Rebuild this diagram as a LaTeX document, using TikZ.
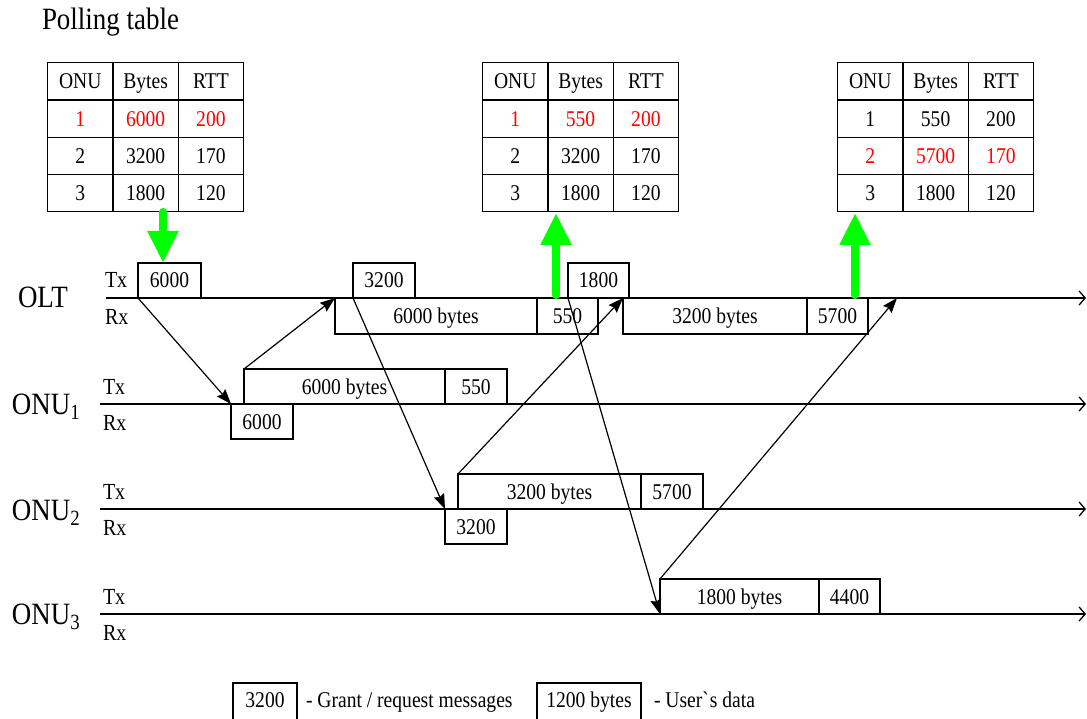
\documentclass[tikz,border=0pt]{standalone}
\usepackage{fontspec}
\setmainfont{Liberation Serif}[FakeStretch=0.87]
\usetikzlibrary{arrows.meta,matrix}
\definecolor{gArrowCol}{RGB}{0,255,0}
\definecolor{redTxt}{RGB}{255,0,0}
\begin{document}
\begin{tikzpicture}[x=1pt,y=-1pt,
  every node/.style={font=\fontsize{22.5}{26}\selectfont, inner sep=0pt, outer sep=0pt},
  bigtxt/.style={font=\fontsize{31}{34}\selectfont, anchor=base west},
  txrx/.style={font=\fontsize{23}{26}\selectfont, anchor=base west},
  box/.style={draw, line width=1.3pt, minimum height=35pt, text height=15pt, text depth=0pt, anchor=north west},
  legbox/.style={draw, line width=1.3pt, minimum height=40pt, text height=15pt, text depth=7pt, anchor=north west},
  ptable/.style={matrix of nodes, anchor=north west, inner sep=0pt, column sep=-1.3pt, row sep=-1.3pt,
    nodes={draw, line width=1.3pt, minimum width=65.3pt, minimum height=37.3pt, text height=15pt, text depth=0pt, anchor=center}},
  rd/.style={text=redTxt},
  tl/.style={line width=1.3pt, -{Straight Barb[length=6pt,width=14pt]}},
  conn/.style={line width=1.2pt, -{Stealth[length=15pt,width=11pt,inset=2pt]}},
  garrow/.style={draw=gArrowCol, line width=8pt, line cap=round, -{Triangle[length=32pt,width=29pt]}}
]
\useasboundingbox (0,0) rectangle (1087,719);

% title
\node[bigtxt] (poll) at (42,30) {Polling table};

% polling tables
\matrix[ptable] (t1) at (47,62) {
ONU & Bytes & RTT\\
|[rd]|1 & |[rd]|6000 & |[rd]|200\\
2 & 3200 & 170\\
3 & 1800 & 120\\
};
\matrix[ptable] (t2) at (482,62) {
ONU & Bytes & RTT\\
|[rd]|1 & |[rd]|550 & |[rd]|200\\
2 & 3200 & 170\\
3 & 1800 & 120\\
};
\matrix[ptable] (t3) at (837,62) {
ONU & Bytes & RTT\\
1 & 550 & 200\\
|[rd]|2 & |[rd]|5700 & |[rd]|170\\
3 & 1800 & 120\\
};

% station labels
\node[bigtxt] (lolt) at (18,308) {OLT};
\node[bigtxt] (lonu1) at (12,414) {ONU\textsubscript{1}};
\node[bigtxt] (lonu2) at (12,520) {ONU\textsubscript{2}};
\node[bigtxt] (lonu3) at (12,624) {ONU\textsubscript{3}};

\node[txrx] (tx0) at (105,288) {Tx};
\node[txrx] (rx0) at (105,324) {Rx};
\node[txrx] (tx1) at (103,394) {Tx};
\node[txrx] (rx1) at (103,430) {Rx};
\node[txrx] (tx2) at (103,499) {Tx};
\node[txrx] (rx2) at (103,535) {Rx};
\node[txrx] (tx3) at (103,604) {Tx};
\node[txrx] (rx3) at (103,640) {Rx};

% time lines
\coordinate (l0s) at (106,298); \coordinate (l0e) at (1086,298);
\coordinate (l1s) at (100,404); \coordinate (l1e) at (1086,404);
\coordinate (l2s) at (100,509); \coordinate (l2e) at (1086,509);
\coordinate (l3s) at (100,614); \coordinate (l3e) at (1086,614);
\draw[tl] (l0s) -- (l0e);
\draw[tl] (l1s) -- (l1e);
\draw[tl] (l2s) -- (l2e);
\draw[tl] (l3s) -- (l3e);

% OLT boxes
\node[box, minimum width=63pt] (o6000) at (138,263) {6000};
\node[box, minimum width=62pt] (o3200) at (353,263) {3200};
\node[box, minimum width=61pt] (o1800) at (568,263) {1800};
\node[box, minimum width=202pt, minimum height=36pt] (od1) at (335,298) {6000 bytes};
\node[box, minimum width=61pt, minimum height=36pt] (or1) at (537,298) {550};
\node[box, minimum width=184pt, minimum height=36pt] (od2) at (623,298) {3200 bytes};
\node[box, minimum width=61pt, minimum height=36pt] (or2) at (807,298) {5700};

% ONU1 boxes
\node[box, minimum width=201pt] (n1d) at (244,369) {6000 bytes};
\node[box, minimum width=62pt] (n1r) at (445,369) {550};
\node[box, minimum width=62pt] (n1g) at (231,404) {6000};

% ONU2 boxes
\node[box, minimum width=183pt] (n2d) at (458,474) {3200 bytes};
\node[box, minimum width=62pt] (n2r) at (641,474) {5700};
\node[box, minimum width=62pt] (n2g) at (445,509) {3200};

% ONU3 boxes
\node[box, minimum width=159pt] (n3d) at (660,579) {1800 bytes};
\node[box, minimum width=61pt] (n3r) at (819,579) {4400};

% messages
\coordinate (e6) at (897,298);
\draw[conn] (o6000.south west) -- (n1g.north west);
\draw[conn] (n1d.north west) -- (od1.north west);
\draw[conn] (o3200.south west) -- (n2g.north west);
\draw[conn] (n2d.north west) -- (od2.north west);
\draw[conn] (o1800.south west) -- (n3d.south west);
\draw[conn] (n3d.north west) -- (e6);

% green arrows
\coordinate (g1a) at (163,212); \coordinate (g1b) at (163,263);
\coordinate (g2a) at (556,295); \coordinate (g2b) at (556,213);
\coordinate (g3a) at (855,295); \coordinate (g3b) at (855,213);
\draw[garrow] (g1a) -- (g1b);
\draw[garrow] (g2a) -- (g2b);
\draw[garrow] (g3a) -- (g3b);

% legend
\node[legbox, minimum width=64pt] (lg1) at (233,683) {3200};
\node[anchor=base west] (lg1t) at (306,707) {- Grant / request messages};
\node[legbox, minimum width=104pt] (lg2) at (537,683) {1200 bytes};
\node[anchor=base west] (lg2t) at (654,707) {- User\textasciigrave s data};
\end{tikzpicture}
\end{document}
